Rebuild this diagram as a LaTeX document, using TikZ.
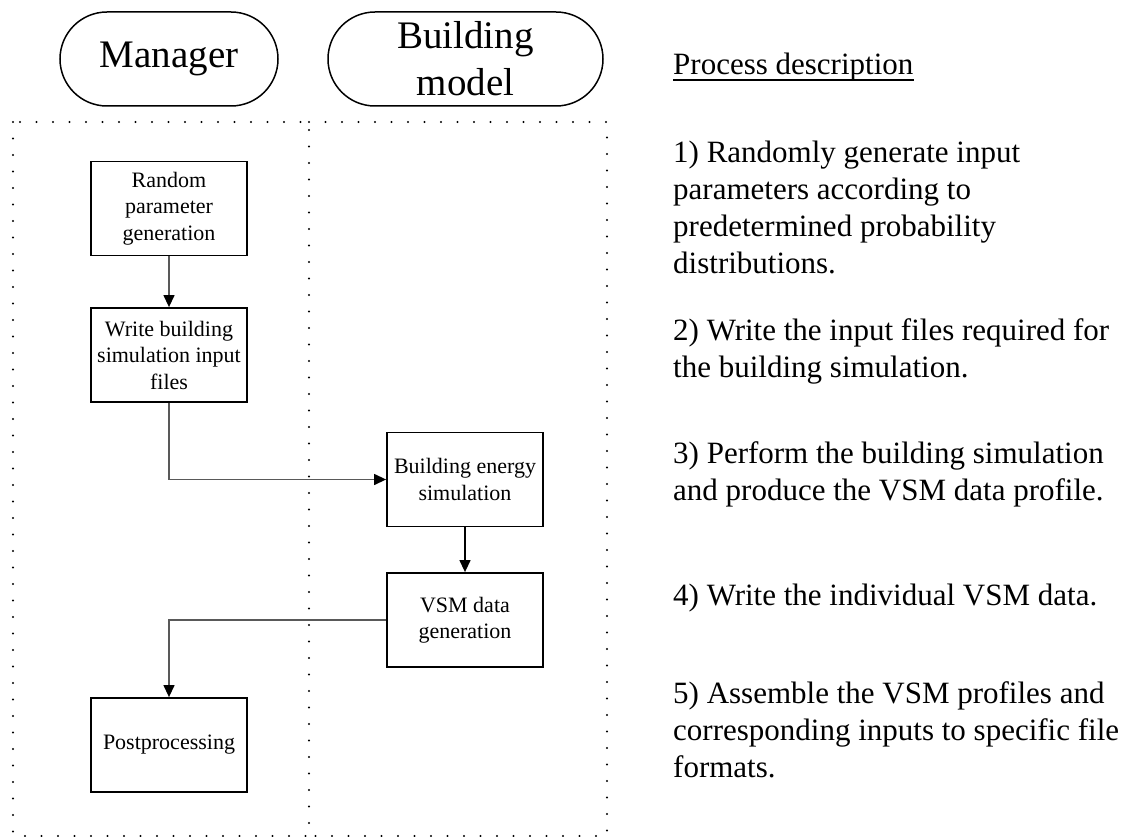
\documentclass[tikz,border=0pt]{standalone}
\usepackage{fontspec}
\setmainfont{Liberation Serif}
\usetikzlibrary{arrows.meta}
\newcommand\descfont{\fontsize{31}{37}\selectfont}
\newcommand\lanefont{\fontsize{39}{47}\selectfont}
\newcommand\stepfont{\fontsize{22}{26.5}\selectfont}

\begin{document}
\begin{tikzpicture}[x=1pt,y=-1pt,
  lanehead/.style={draw, line width=1.5pt, rounded corners=47pt, minimum height=94pt,
    inner sep=0pt, align=center, font=\lanefont},
  stepbox/.style={draw, line width=1.8pt, minimum width=156pt, minimum height=94pt,
    inner sep=2pt, align=center, font=\stepfont},
  lane/.style={line width=2.4pt, dash pattern=on 0pt off 16.5pt, line cap=round},
  flow/.style={draw=black!65, line width=1.3pt,
    -{Triangle[length=12pt,width=11pt,color=black]}},
  % multi-line text: the base anchor sits on the last line's baseline
  desc/.style={anchor=base west, align=left, inner sep=0pt, font=\descfont}]
\useasboundingbox (0,0) rectangle (1122,837);

% swimlane headers
\node[lanehead, minimum width=218pt] (mgr) at (169,59) {Manager};
\node[lanehead, minimum width=275pt] (bmod) at (465.5,59) {Building\\model};

% swimlanes (dotted frames)
\coordinate (lnw) at (13,122);
\coordinate (lmid) at (309,122);
\coordinate (rne) at (607,122);
\coordinate (lms) at (309,836);
\coordinate (rse) at (607,836);
\draw[lane] (lnw) rectangle (lms);
\draw[lane] (lmid) -- (rne) -- (rse) -- (lms);

% process steps
\node[stepbox] (rpg) at (169,208.5) {Random\\parameter\\generation};
\node[stepbox] (wbs) at (169,355) {Write building\\simulation input\\files};
\node[stepbox] (bes) at (465,479.5) {Building energy\\simulation};
\node[stepbox] (vsm) at (465,620) {VSM data\\generation};
\node[stepbox] (post) at (169,745) {Postprocessing};

% flow
\draw[flow] (rpg) -- (wbs);
\draw[flow] (wbs.south) |- (bes.west);
\draw[flow, draw=black] (bes) -- (vsm);
\draw[flow] (vsm.west) -| (post.north);

% process description
\node[desc] (pd) at (673,75) {Process description};
\draw[line width=1.4pt] ([yshift=-5pt]pd.base west) -- ([yshift=-5pt]pd.base east);
\node[desc] (d1) at (673,273) {1) Randomly generate input\\parameters according to\\predetermined probability\\distributions.};
\node[desc] (d2) at (673,377) {2) Write the input files required for\\the building simulation.};
\node[desc] (d3) at (673,500) {3) Perform the building simulation\\and produce the VSM data profile.};
\node[desc] (d4) at (673,605) {4) Write the individual VSM data.};
\node[desc] (d5) at (673,777) {5) Assemble the VSM profiles and\\corresponding inputs to specific file\\formats.};
\end{tikzpicture}
\end{document}
